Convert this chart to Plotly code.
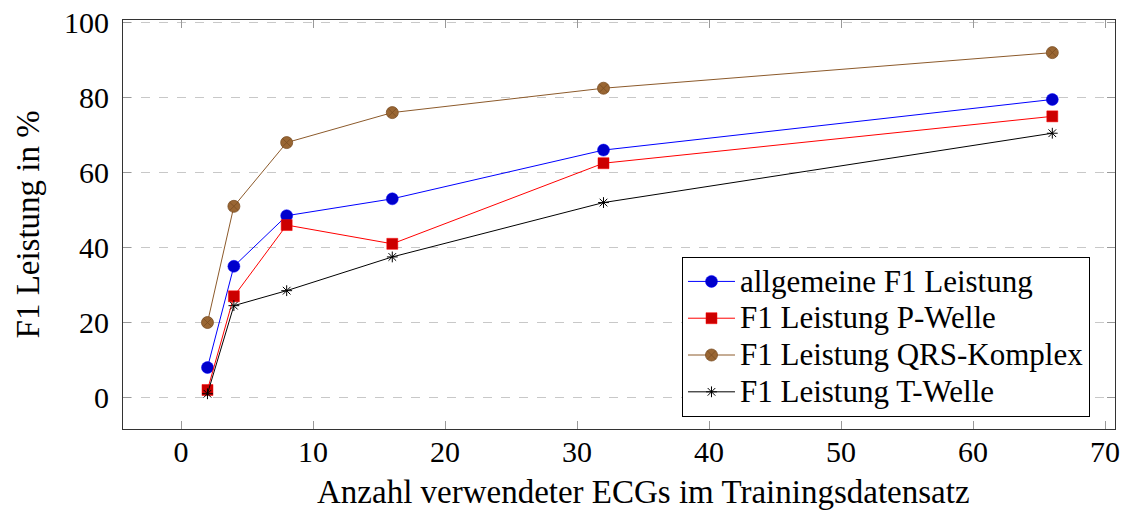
import plotly.graph_objects as go

x_vals = [2, 4, 8, 16, 32, 66]
allgemeine = [8, 35, 48.5, 53, 66, 79.5]
p_welle = [2, 27, 46, 41, 62.5, 75]
qrs = [20, 51, 68, 76, 82.5, 92]
t_welle = [1, 24.5, 28.5, 37.5, 52, 70.5]

names = ["allgemeine F1 Leistung", "F1 Leistung P-Welle",
         "F1 Leistung QRS-Komplex", "F1 Leistung T-Welle"]
x_title = "Anzahl verwendeter ECGs im Trainingsdatensatz"
y_title = "F1 Leistung in %"

FONT = "Liberation Serif, Times New Roman, serif"
FS = 30
TFS = 33


def leg(n):
    return f'<span style="font-size:31px">{n}</span>'


fig = go.Figure()
fig.add_trace(go.Scatter(x=x_vals, y=allgemeine, name=leg(names[0]), mode="lines+markers",
                         line=dict(color="#0000ff", width=1),
                         marker=dict(symbol="circle", size=12, color="#0000cc",
                                     line=dict(color="#0000ff", width=0.5))))
fig.add_trace(go.Scatter(x=x_vals, y=p_welle, name=leg(names[1]), mode="lines+markers",
                         line=dict(color="#ff0000", width=1),
                         marker=dict(symbol="square", size=11, color="#cc0000",
                                     line=dict(color="#ff0000", width=0.5))))
fig.add_trace(go.Scatter(x=x_vals, y=qrs, name=leg(names[2]), mode="lines+markers",
                         line=dict(color="#8c5a2b", width=1),
                         marker=dict(symbol="circle-x", size=12, color="#996633",
                                     line=dict(color="#7a4d22", width=0.8))))
fig.add_trace(go.Scatter(x=x_vals, y=t_welle, name=leg(names[3]), mode="lines+markers",
                         line=dict(color="#000000", width=1),
                         marker=dict(symbol="asterisk-open", size=9, color="#000000",
                                     line=dict(color="#000000", width=1))))

fig.update_layout(
    width=1129, height=510,
    margin=dict(l=123, r=14, t=20, b=81),
    paper_bgcolor="white", plot_bgcolor="white",
    font=dict(family=FONT, size=FS, color="black"),
    showlegend=True,
    legend=dict(x=0.5635, y=0.4205, xanchor="left", yanchor="top",
                bgcolor="white", bordercolor="black", borderwidth=1,
                font=dict(family=FONT, size=26), tracegroupgap=0,
                itemwidth=47, entrywidth=362, entrywidthmode="pixels"),
    xaxis=dict(range=[-4.4, 70.75], tickvals=[0, 10, 20, 30, 40, 50, 60, 70],
               showgrid=False, zeroline=False, automargin=False,
               showline=True, linecolor="#333333", linewidth=1.2, mirror="ticks",
               ticks="inside", ticklen=8, tickcolor="#999999",
               ticklabelstandoff=-4,
               tickfont=dict(family=FONT, size=FS)),
    yaxis=dict(range=[-8.4, 100.7], tickvals=[0, 20, 40, 60, 80, 100],
               showgrid=True, gridcolor="#c8c8c8", griddash="dash", gridwidth=1,
               zeroline=False, automargin=False,
               showline=True, linecolor="#333333", linewidth=1.2, mirror="ticks",
               ticks="inside", ticklen=8, tickcolor="#999999",
               ticklabelstandoff=7,
               tickfont=dict(family=FONT, size=FS)),
    annotations=[
        dict(text=x_title, xref="paper", yref="paper", x=0.525, y=-0.154,
             xanchor="center", yanchor="middle", showarrow=False,
             font=dict(family=FONT, size=TFS)),
        dict(text=y_title, xref="paper", yref="paper", x=-0.0958, y=0.5,
             xanchor="center", yanchor="middle", showarrow=False, textangle=-90,
             font=dict(family=FONT, size=TFS)),
    ],
)

fig.write_html("out.html")
